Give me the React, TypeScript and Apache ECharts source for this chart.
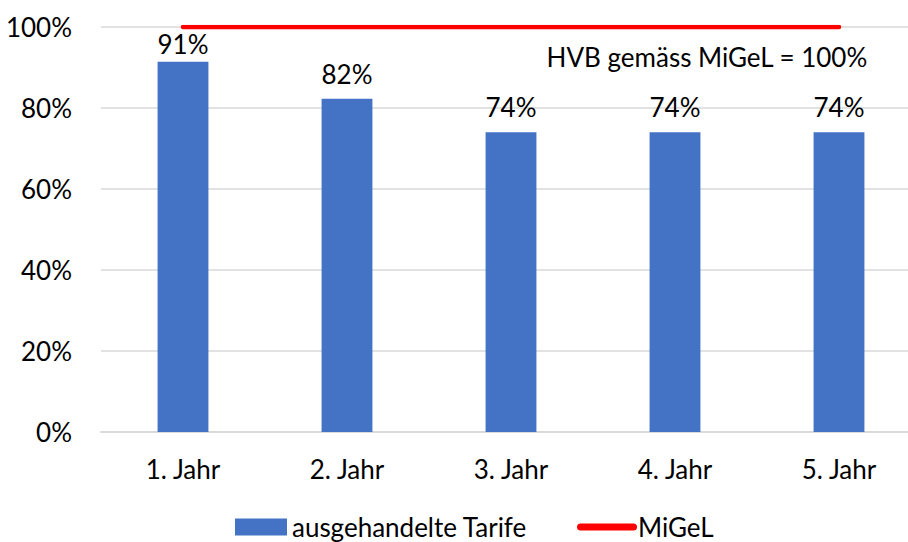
import React, { useEffect, useRef } from "react";
import * as echarts from "echarts";

const categories = ["1. Jahr", "2. Jahr", "3. Jahr", "4. Jahr", "5. Jahr"];
const tarifValues = [91.4, 82.3, 74, 74, 74];
const migelValues = [100, 100, 100, 100, 100];
const annotation = "HVB gemäss MiGeL = 100%";

const FONT = "Lato";
const FS = 26;

export default function App() {
  const ref = useRef<HTMLDivElement>(null);
  useEffect(() => {
    if (!ref.current) return;
    const chart = echarts.init(ref.current, null, { renderer: "svg" });
    chart.setOption({
      animation: false,
      backgroundColor: "#ffffff",
      textStyle: { fontFamily: FONT },
      grid: { left: 101, right: 0, top: 27, bottom: 110 },
      legend: [
        {
          data: [{ name: "ausgehandelte Tarife", icon: "rect" }],
          left: 235,
          top: 514,
          itemWidth: 52,
          itemHeight: 17,
          itemGap: 6,
          textStyle: { fontFamily: FONT, fontSize: FS, color: "#000" },
          padding: 0,
        },
        {
          data: [
            {
              name: "MiGeL",
              icon: "path://M3.5,0 H56.5 A3.5,3.5 0 0 1 56.5,7 H3.5 A3.5,3.5 0 0 1 3.5,0 Z",
            },
          ],
          left: 577,
          top: 514,
          itemWidth: 60,
          itemHeight: 7,
          textStyle: { fontFamily: FONT, fontSize: FS, color: "#000", padding: [0, 0, 0, -4] },
          padding: 0,
        },
      ],
      xAxis: {
        type: "category",
        data: categories,
        axisLine: { lineStyle: { color: "#d9d9d9", width: 2 } },
        axisTick: { show: false },
        axisLabel: { fontFamily: FONT, fontSize: FS, color: "#000", margin: 24 },
      },
      yAxis: {
        type: "value",
        min: 0,
        max: 100,
        interval: 20,
        axisLabel: { fontFamily: FONT, fontSize: FS, color: "#000", margin: 29, formatter: "{value}%" },
        splitLine: { lineStyle: { color: "#d9d9d9", width: 1.5 } },
        axisLine: { show: false },
        axisTick: { show: false },
      },
      graphic: [
        {
          type: "text",
          right: 53,
          top: 44,
          style: {
            text: annotation,
            fontFamily: FONT,
            fontSize: FS,
            fill: "#000",
          },
        },
      ],
      series: [
        {
          name: "ausgehandelte Tarife",
          type: "bar",
          data: tarifValues.map((v, i) =>
            i === 0 ? { value: v, label: { distance: 5 } } : v
          ),
          barWidth: "31%",
          itemStyle: { color: "#4472C4" },
          label: {
            show: true,
            position: "top",
            distance: 12,
            fontFamily: FONT,
            fontSize: FS,
            color: "#000",
            formatter: (p: any) => Math.round(p.value) + "%",
          },
        },
        {
          name: "MiGeL",
          type: "line",
          data: migelValues,
          symbol: "none",
          showSymbol: false,
          lineStyle: { color: "#ff0000", width: 4.5, cap: "round" },
          itemStyle: { color: "#ff0000" },
          z: 5,
        },
      ],
    });
    return () => chart.dispose();
  }, []);
  return (
    <div
      style={{
        position: "absolute",
        left: 0,
        top: 0,
        width: 908,
        height: 542,
        overflow: "hidden",
      }}
    >
      <div ref={ref} style={{ width: 921, height: 542 }} />
    </div>
  );
}
